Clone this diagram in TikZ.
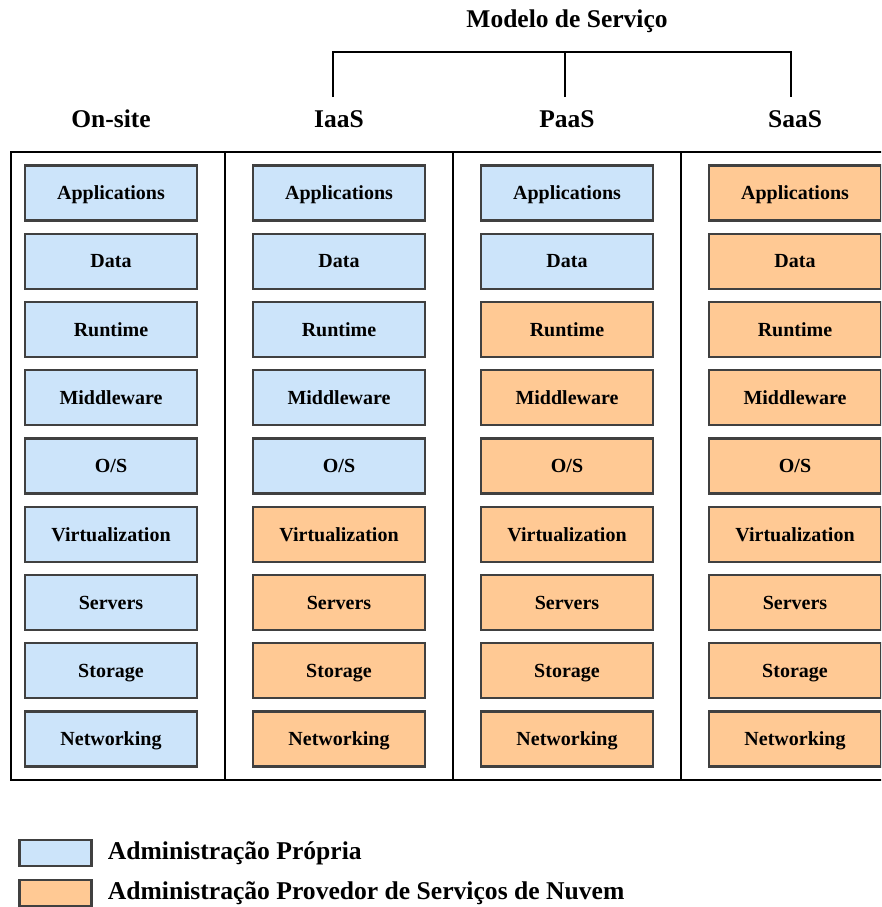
\documentclass[tikz,border=0pt]{standalone}
\usepackage{fontspec}
\setmainfont{Liberation Serif}
\usetikzlibrary{positioning}
\definecolor{ownblue}{RGB}{204,228,250}
\definecolor{provorange}{RGB}{255,201,148}
\definecolor{boxgray}{RGB}{64,64,64}
\tikzset{
  layer/.style={draw=boxgray, line width=2.4pt, minimum width=172pt, minimum height=55pt,
                inner sep=0pt, text depth=0pt, font=\bfseries\fontsize{20}{22}\selectfont},
  own/.style={layer, fill=ownblue},
  prov/.style={layer, fill=provorange},
  colhead/.style={font=\bfseries\fontsize{25.5}{27}\selectfont, inner sep=0pt},
  frame/.style={line width=2pt, black},
  bracket/.style={line width=2pt, black},
  legbox/.style={draw=boxgray, line width=2.4pt, minimum width=72pt, minimum height=26pt, inner sep=0pt},
  legtext/.style={font=\bfseries\fontsize{25.6}{27}\selectfont, inner sep=0pt, anchor=west},
}

\begin{document}
\begin{tikzpicture}[x=1pt, y=-1pt]
  \useasboundingbox (0,0) rectangle (881,907);
  \clip (0,0) rectangle (881,907);
  % column headers and service-model bracket
  \node[colhead] (hOnsite) at (111,119) {On-site};
  \node[colhead] (hIaaS)   at (339,119) {IaaS};
  \node[colhead] (hPaaS)   at (567,119) {PaaS};
  \node[colhead] (hSaaS)   at (795,119) {SaaS};
  \node[colhead] (model)   at (567,21)  {Modelo de Serviço};
  \coordinate (brL) at (333,97);
  \coordinate (brM) at (565,97);
  \coordinate (brR) at (791,97);
  \coordinate (brTop) at (565,52);
  \draw[bracket] (brL) |- (brTop) -| (brR);
  \draw[bracket] (brM) -- (brTop);
  % outer frame and column separators
  \coordinate (frTL) at (11,152);
  \coordinate (frBR) at (909,780);
  \draw[frame] (frTL) rectangle (frBR);
  \foreach \c in {0,1,2}
    \draw[frame] (225+228*\c,152) -- (225+228*\c,780);
  % stacks of layers
  \foreach \c/\cut in {0/9,1/5,2/2,3/0}{
    \foreach \lbl [count=\r from 0] in {Applications,Data,Runtime,Middleware,O/S,
                                        Virtualization,Servers,Storage,Networking}{
      \ifnum\r<\cut
        \node[own] (c\c r\r) at (111+228*\c,193+68.25*\r) {\lbl};
      \else
        \node[prov] (c\c r\r) at (111+228*\c,193+68.25*\r) {\lbl};
      \fi
    }
  }
  % legend
  \node[legbox, fill=ownblue] (legOwn) at (55.5,853) {};
  \node[legtext, right=15pt of legOwn] (legOwnTxt) {Administração Própria};
  \node[legbox, fill=provorange] (legProv) at (55.5,893) {};
  \node[legtext, right=15pt of legProv] (legProvTxt) {Administração Provedor de Serviços de Nuvem};
\end{tikzpicture}
\end{document}
